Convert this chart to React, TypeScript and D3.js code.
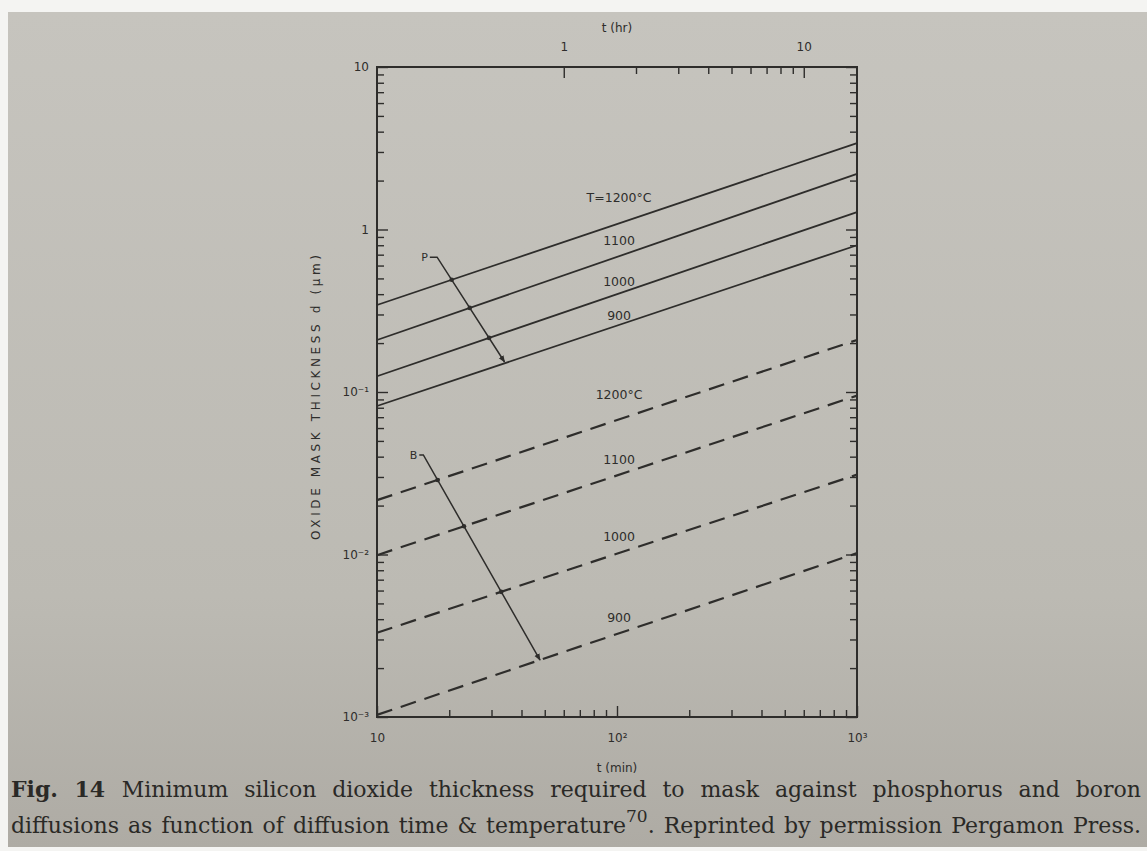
import React, { useEffect, useRef } from 'react'
import * as d3 from 'd3'

// diffusion time (min) at which each curve is read: left and right edge of the plot
const timesMin = [10, 1000]
const tempLabels = ['T=1200°C', '1100', '1000', '900']
const boronLabels = ['1200°C', '1100', '1000', '900']

// phosphorus (solid) mask thickness, µm
const pAt10 = [0.343, 0.209, 0.125, 0.082]
const pAt1000 = [3.4, 2.2, 1.28, 0.8]
// boron (dashed) mask thickness, µm
const bAt10 = [0.0216, 0.0099, 0.0033, 0.00103]
const bAt1000 = [0.209, 0.095, 0.031, 0.0102]

// curve labels: read at t ~ 102 min
const labelTime = 102
const pLabelD = [1.58, 0.86, 0.475, 0.294]
const bLabelD = [0.096, 0.0382, 0.0128, 0.00406]

// arrow annotations (t min, d µm)
const pArrow = [[16.6, 0.676], [17.8, 0.676], [34, 0.153]]
const bArrow = [[15.0, 0.041], [15.6, 0.041], [47.8, 0.00224]]

const xMajor = [10, 100, 1000]
const yMajor = [10, 1, 0.1, 0.01, 0.001]
const hrMajor = [1, 10]

const captionLine1 = 'Minimum silicon dioxide thickness required to mask against phosphorus and boron'
const captionLine2a = 'diffusions as function of diffusion time & temperature'
const captionRef = '70'
const captionLine2b = '. Reprinted by permission Pergamon Press.'

const W = 1147
const H = 851
const INK = '#2e2d2b'

const fmtPow = (v: number) => {
  const e = Math.round(Math.log10(v))
  const sup: Record<string, string> = { '-': '⁻', '1': '¹', '2': '²', '3': '³' }
  if (e === 0) return '1'
  if (e === 1) return '10'
  return '10' + String(e).split('').map(c => sup[c]).join('')
}

const minorTicks = (lo: number, hi: number) => {
  const out: number[] = []
  for (let p = Math.floor(Math.log10(lo)); p <= Math.ceil(Math.log10(hi)); p++) {
    for (let m = 2; m <= 9; m++) {
      const v = m * Math.pow(10, p)
      if (v > lo * 1.0001 && v < hi * 0.9999) out.push(v)
    }
  }
  return out
}

export default function App() {
  const ref = useRef<SVGSVGElement>(null)

  useEffect(() => {
    const svg = d3.select(ref.current)
    svg.selectAll('*').remove()

    const left = 377
    const right = 857
    const top = 67
    const bottom = 717

    const x = d3.scaleLog().domain([10, 1000]).range([left, right])
    const xh = d3.scaleLog().domain([10 / 60, 1000 / 60]).range([left, right])
    const y = d3.scaleLog().domain([1e-3, 10]).range([bottom, top])

    const defs = svg.append('defs')
    const grad = defs
      .append('linearGradient')
      .attr('id', 'paper')
      .attr('x1', 0)
      .attr('y1', 0)
      .attr('x2', 0)
      .attr('y2', 1)
    grad.append('stop').attr('offset', '0%').attr('stop-color', '#c6c4be')
    grad.append('stop').attr('offset', '70%').attr('stop-color', '#bcbab3')
    grad.append('stop').attr('offset', '100%').attr('stop-color', '#aeaba4')

    defs
      .append('marker')
      .attr('id', 'head')
      .attr('viewBox', '0 0 10 10')
      .attr('refX', 9)
      .attr('refY', 5)
      .attr('markerWidth', 7)
      .attr('markerHeight', 7)
      .attr('markerUnits', 'userSpaceOnUse')
      .attr('orient', 'auto')
      .append('path')
      .attr('d', 'M0,1 L10,5 L0,9 Z')
      .attr('fill', INK)

    svg.append('rect').attr('width', W).attr('height', H).attr('fill', '#f4f4f2')
    svg
      .append('rect')
      .attr('x', 8)
      .attr('y', 12)
      .attr('width', W - 8)
      .attr('height', H - 16)
      .attr('fill', 'url(#paper)')

    const font = 'DejaVu Sans, sans-serif'

    // axes, ticks drawn inward
    const styleAxis = (g: any) => {
      g.select('.domain').remove()
      g.selectAll('line').attr('stroke', INK).attr('stroke-width', 1.4)
      g.selectAll('text').attr('fill', INK).style('font', `12px ${font}`)
    }

    svg
      .append('g')
      .attr('transform', `translate(0,${bottom})`)
      .call(d3.axisBottom(x).tickValues(minorTicks(10, 1000)).tickSize(-7).tickFormat(() => ''))
      .call(styleAxis)
    svg
      .append('g')
      .attr('transform', `translate(0,${bottom})`)
      .call(d3.axisBottom(x).tickValues(xMajor).tickSize(-11).tickPadding(16).tickFormat(d => fmtPow(+d)))
      .call(styleAxis)

    svg
      .append('g')
      .attr('transform', `translate(0,${top})`)
      .call(d3.axisTop(xh).tickValues(minorTicks(1, 10)).tickSize(-7).tickFormat(() => ''))
      .call(styleAxis)
    svg
      .append('g')
      .attr('transform', `translate(0,${top})`)
      .call(d3.axisTop(xh).tickValues(hrMajor).tickSize(-11).tickPadding(16).tickFormat(d => String(d)))
      .call(styleAxis)

    svg
      .append('g')
      .attr('transform', `translate(${left},0)`)
      .call(d3.axisLeft(y).tickValues(minorTicks(1e-3, 10)).tickSize(-7).tickFormat(() => ''))
      .call(styleAxis)
    svg
      .append('g')
      .attr('transform', `translate(${left},0)`)
      .call(d3.axisLeft(y).tickValues(yMajor).tickSize(-11).tickPadding(8).tickFormat(d => fmtPow(+d)))
      .call(styleAxis)

    svg
      .append('g')
      .attr('transform', `translate(${right},0)`)
      .call(d3.axisRight(y).tickValues(minorTicks(1e-3, 10)).tickSize(-7).tickFormat(() => ''))
      .call(styleAxis)
    svg
      .append('g')
      .attr('transform', `translate(${right},0)`)
      .call(d3.axisRight(y).tickValues(yMajor).tickSize(-11).tickFormat(() => ''))
      .call(styleAxis)

    svg
      .append('rect')
      .attr('x', left)
      .attr('y', top)
      .attr('width', right - left)
      .attr('height', bottom - top)
      .attr('fill', 'none')
      .attr('stroke', INK)
      .attr('stroke-width', 2)

    // axis titles
    svg
      .append('text')
      .attr('x', x(100))
      .attr('y', 32)
      .attr('text-anchor', 'middle')
      .attr('fill', INK)
      .style('font', `12px ${font}`)
      .text('t (hr)')
    svg
      .append('text')
      .attr('x', x(100))
      .attr('y', 772)
      .attr('text-anchor', 'middle')
      .attr('fill', INK)
      .style('font', `12px ${font}`)
      .text('t (min)')
    svg
      .append('text')
      .attr('transform', `translate(320,${(255 + 540) / 2}) rotate(-90)`)
      .attr('text-anchor', 'middle')
      .attr('fill', INK)
      .attr('textLength', 285)
      .attr('lengthAdjust', 'spacing')
      .style('font', `12px ${font}`)
      .text('OXIDE MASK THICKNESS d (μm)')

    // curves
    const line = d3
      .line<number[]>()
      .x(d => x(d[0]))
      .y(d => y(d[1]))

    const drawFamily = (start: number[], end: number[], dashed: boolean) => {
      start.forEach((s, i) => {
        svg
          .append('path')
          .datum(timesMin.map((t, j) => [t, j === 0 ? s : end[i]]))
          .attr('d', line)
          .attr('fill', 'none')
          .attr('stroke', INK)
          .attr('stroke-width', dashed ? 2.2 : 1.8)
          .attr('stroke-dasharray', dashed ? '16,9' : null)
      })
    }
    drawFamily(pAt10, pAt1000, false)
    drawFamily(bAt10, bAt1000, true)

    const curveLabels = (labels: string[], ds: number[]) => {
      labels.forEach((lab, i) => {
        svg
          .append('text')
          .attr('x', x(labelTime))
          .attr('y', y(ds[i]))
          .attr('dy', '0.35em')
          .attr('text-anchor', 'middle')
          .attr('fill', INK)
          .style('font', `12.5px ${font}`)
          .text(lab)
      })
    }
    curveLabels(tempLabels, pLabelD)
    curveLabels(boronLabels, bLabelD)

    // arrows with dots where they cross the curves
    const drawArrow = (pts: number[][], name: string, start: number[], end: number[]) => {
      svg
        .append('text')
        .attr('x', x(pts[0][0]) - 2)
        .attr('y', y(pts[0][1]))
        .attr('dy', '0.35em')
        .attr('text-anchor', 'end')
        .attr('fill', INK)
        .style('font', `11px ${font}`)
        .text(name)
      svg
        .append('path')
        .datum(pts)
        .attr('d', line)
        .attr('fill', 'none')
        .attr('stroke', INK)
        .attr('stroke-width', 1.5)
        .attr('marker-end', 'url(#head)')

      const [a, b] = [pts[1], pts[2]]
      const la = [Math.log10(a[0]), Math.log10(a[1])]
      const lb = [Math.log10(b[0]), Math.log10(b[1])]
      start.forEach((s, i) => {
        const k = (Math.log10(end[i]) - Math.log10(s)) / 2
        const c = Math.log10(s) - k
        const u = (c + k * la[0] - la[1]) / (lb[1] - la[1] - k * (lb[0] - la[0]))
        if (u < 0 || u > 0.97) return
        const lt = la[0] + u * (lb[0] - la[0])
        const ld = la[1] + u * (lb[1] - la[1])
        svg
          .append('circle')
          .attr('cx', x(Math.pow(10, lt)))
          .attr('cy', y(Math.pow(10, ld)))
          .attr('r', 2.3)
          .attr('fill', INK)
      })
    }
    drawArrow(pArrow, 'P', pAt10, pAt1000)
    drawArrow(bArrow, 'B', bAt10, bAt1000)

    // caption, justified by stretching the word spaces
    const capFont = '22px DejaVu Serif, serif'
    const justify = (t: any, target: number, spaces: number) => {
      const natural = (t.node() as SVGTextElement).getComputedTextLength()
      const extra = Math.max(0, (target - natural) / spaces)
      t.attr('word-spacing', extra)
    }

    const cap = svg
      .append('text')
      .attr('x', 11)
      .attr('y', 797)
      .attr('fill', '#2a2926')
      .style('font', capFont)
    cap.append('tspan').attr('font-weight', 'bold').text('Fig. 14 ')
    cap.append('tspan').text(captionLine1)
    justify(cap, 1130, captionLine1.split(' ').length + 1)

    const cap2 = svg
      .append('text')
      .attr('x', 11)
      .attr('y', 833)
      .attr('fill', '#2a2926')
      .style('font', capFont)
    cap2.append('tspan').text(captionLine2a)
    cap2.append('tspan').attr('dy', -11).style('font-size', '17px').text(captionRef)
    cap2.append('tspan').attr('dy', 11).text(captionLine2b)
    justify(cap2, 1132, (captionLine2a + captionLine2b).split(' ').length)
  }, [])

  return (
    <svg
      ref={ref}
      width={W}
      height={H}
      style={{ position: 'absolute', left: 0, top: 0, display: 'block' }}
    />
  )
}
